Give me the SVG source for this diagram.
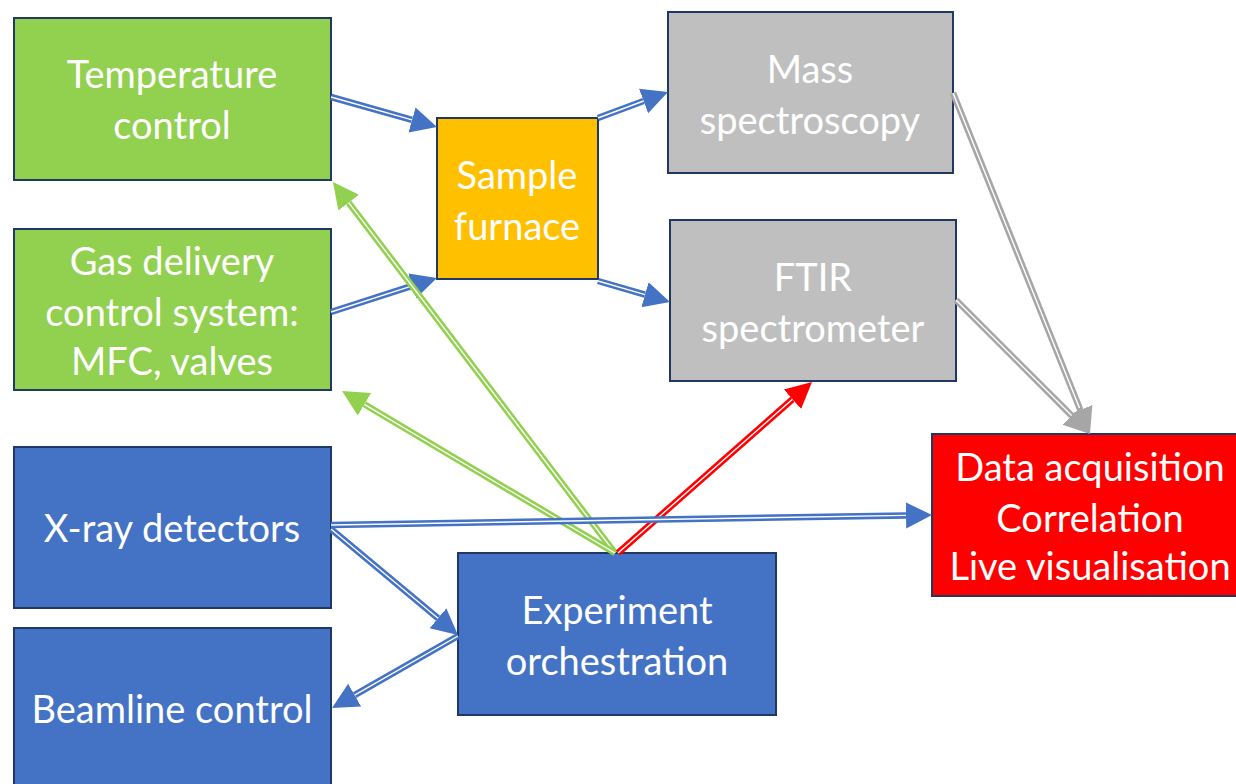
<svg xmlns="http://www.w3.org/2000/svg" width="1236" height="784" viewBox="0 0 1236 784">
<style>
.box{stroke:#1F3864;stroke-width:2}
.green{fill:#92D050}
.blue{fill:#4472C4}
.orange{fill:#FFC000}
.gray{fill:#BFBFBF}
.red{fill:#FF0000}
text{font-family:"Lato","Noto Sans",sans-serif;font-size:38px;fill:#FFFFFF;text-anchor:middle}
.c{fill:none;stroke-width:6.5}
.w{fill:none;stroke:#FFFFFF;stroke-width:1.4}
.cb{stroke:#4472C4;marker-end:url(#ab)}
.cg{stroke:#92D050;marker-end:url(#ag)}
.cr{stroke:#FF0000;marker-end:url(#ar)}
.cy{stroke:#A6A6A6;marker-end:url(#ay)}
</style>
<defs>
<marker id="ab" markerUnits="userSpaceOnUse" markerWidth="28" markerHeight="28" viewBox="0 -14 28 28" refX="0" refY="0" orient="auto"><path d="M0,-13 L26,0 L0,13 z" fill="#4472C4"/></marker>
<marker id="ag" markerUnits="userSpaceOnUse" markerWidth="28" markerHeight="28" viewBox="0 -14 28 28" refX="0" refY="0" orient="auto"><path d="M0,-13 L26,0 L0,13 z" fill="#92D050"/></marker>
<marker id="ar" markerUnits="userSpaceOnUse" markerWidth="28" markerHeight="28" viewBox="0 -14 28 28" refX="0" refY="0" orient="auto"><path d="M0,-13 L26,0 L0,13 z" fill="#FF0000"/></marker>
<marker id="ay" markerUnits="userSpaceOnUse" markerWidth="28" markerHeight="28" viewBox="0 -14 28 28" refX="0" refY="0" orient="auto"><path d="M0,-13 L26,0 L0,13 z" fill="#A6A6A6"/></marker>
</defs>
<rect width="1236" height="784" fill="#FFFFFF"/>

<g id="temperature-control">
<rect class="box green" x="14" y="18" width="317" height="162"/>
<text x="172" y="88">Temperature</text>
<text x="172" y="139">control</text>
</g>
<g id="gas-delivery">
<rect class="box green" x="14" y="229" width="317" height="161"/>
<text x="172" y="275">Gas delivery</text>
<text x="172" y="326">control system:</text>
<text x="172" y="375">MFC, valves</text>
</g>
<g id="xray-detectors">
<rect class="box blue" x="14" y="447" width="317" height="161"/>
<text x="172" y="542">X-ray detectors</text>
</g>
<g id="beamline-control">
<rect class="box blue" x="14" y="628" width="317" height="160"/>
<text x="172" y="723">Beamline control</text>
</g>
<g id="sample-furnace">
<rect class="box orange" x="437" y="118" width="161" height="161"/>
<text x="517" y="189">Sample</text>
<text x="517" y="240">furnace</text>
</g>
<g id="mass-spectroscopy">
<rect class="box gray" x="668" y="12" width="285" height="161"/>
<text x="810" y="83">Mass</text>
<text x="810" y="134">spectroscopy</text>
</g>
<g id="ftir-spectrometer">
<rect class="box gray" x="670" y="220" width="286" height="161"/>
<text x="813" y="291">FTIR</text>
<text x="813" y="342">spectrometer</text>
</g>
<g id="data-acquisition">
<rect class="box red" x="932" y="434" width="306" height="162"/>
<text x="1090" y="481">Data acquisition</text>
<text x="1090" y="532">Correlation</text>
<text x="1090" y="580">Live visualisation</text>
</g>
<g id="experiment-orchestration">
<rect class="box blue" x="458" y="553" width="318" height="162"/>
<text x="617" y="624">Experiment</text>
<text x="617" y="675">orchestration</text>
</g>

<g id="connectors">
<line class="c cb" x1="331" y1="97" x2="412" y2="119.9"/>
<line class="w" x1="331" y1="97" x2="412" y2="119.9"/>
<line class="c cb" x1="331" y1="312" x2="412.2" y2="285.9"/>
<line class="w" x1="331" y1="312" x2="412.2" y2="285.9"/>
<line class="c cb" x1="598" y1="118" x2="643.6" y2="101"/>
<line class="w" x1="598" y1="118" x2="643.6" y2="101"/>
<line class="c cb" x1="598" y1="281" x2="645" y2="294.7"/>
<line class="w" x1="598" y1="281" x2="645" y2="294.7"/>
<line class="c cy" x1="953" y1="93" x2="1080.3" y2="409.9"/>
<line class="w" x1="953" y1="93" x2="1080.3" y2="409.9"/>
<line class="c cy" x1="956" y1="300" x2="1071.6" y2="415.6"/>
<line class="w" x1="956" y1="300" x2="1071.6" y2="415.6"/>
<line class="c cg" x1="615" y1="553" x2="348.7" y2="202.7"/>
<line class="w" x1="615" y1="553" x2="348.7" y2="202.7"/>
<line class="c cg" x1="615" y1="553" x2="364.4" y2="404.3"/>
<line class="w" x1="615" y1="553" x2="364.4" y2="404.3"/>
<line class="c cr" x1="618" y1="553" x2="792.5" y2="399.2"/>
<line class="w" x1="618" y1="553" x2="792.5" y2="399.2"/>
<line class="c cb" x1="331" y1="525" x2="906" y2="515.4"/>
<line class="w" x1="331" y1="525" x2="906" y2="515.4"/>
<line class="c cb" x1="331" y1="529" x2="438" y2="618.3"/>
<line class="w" x1="331" y1="529" x2="438" y2="618.3"/>
<line class="c cb" x1="458" y1="636" x2="354.6" y2="695.1"/>
<line class="w" x1="458" y1="636" x2="354.6" y2="695.1"/>
</g>
</svg>
